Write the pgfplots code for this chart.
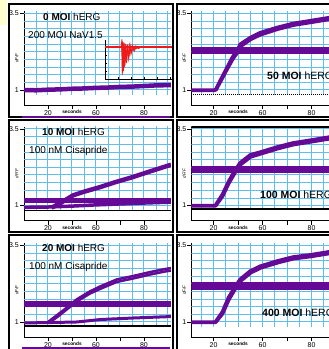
\documentclass[border=0pt]{standalone}
\usepackage{fontspec}
\setmainfont{Liberation Sans}
\usepackage{pgfplots}
\pgfplotsset{compat=1.18}
\definecolor{pur}{RGB}{100,10,150}
\definecolor{gridc}{RGB}{95,190,235}
\definecolor{redc}{RGB}{240,25,25}
\definecolor{paleyel}{RGB}{255,255,205}

\newcommand{\mkgrid}[2]{%
 \pgfplotsinvokeforeach{0.5,1.5,2.5,3.5,4.5,5.5}{\draw[gridc,line width=0.6pt] (axis cs:##1,0.85) -- (axis cs:##1,3.6);}
 \pgfplotsinvokeforeach{1,2,3,4,5,6}{\draw[gridc,line width=1pt] (axis cs:##1,0.85) -- (axis cs:##1,3.6);}
 \pgfplotsinvokeforeach{1.25,1.75,2.25,2.75,3.25}{\draw[gridc,line width=0.6pt] (axis cs:#1,##1) -- (axis cs:#2,##1);}
 \pgfplotsinvokeforeach{1,1.5,2,2.5,3,3.5}{\draw[gridc,line width=1pt] (axis cs:#1,##1) -- (axis cs:#2,##1);}
}

\pgfplotsset{
 panel/.style={
  scale only axis, height=94pt, ymin=0.5, ymax=3.57,
  axis x line*=bottom, axis y line*=left,
  axis line style={black,line width=0.8pt,-},
  xtick={1,2,3,4,5}, xticklabels={20,{\fontsize{4.8}{5}\selectfont\bfseries seconds},60,{},80},
  ytick={1,3.5}, yticklabels={1,3.5},
  tick align=outside, major tick length=4pt, tick style={black,line width=0.6pt},
  tick label style={font=\fontsize{7}{7}\selectfont, inner sep=1pt},
  ylabel={dF/F}, ylabel style={font=\fontsize{4.5}{4.5}\selectfont\itshape, at={(axis description cs:-0.05,0.5)}, anchor=center, rotate=0},
  every axis plot/.append style={pur, line width=3.5pt, line join=round, no marks},
 },
 leftp/.style={panel, xmin=0, xmax=6.125, width=147pt},
 rightp/.style={panel, xmin=0.1, xmax=6, width=144.55pt},
}

\begin{document}
\begin{tikzpicture}[x=1pt,y=1pt]
\useasboundingbox (0,0) rectangle (329,349);
\fill[white] (0,0) rectangle (329,349);
\fill[paleyel] (0,324) rectangle (7,349);

% ---------------- left column ----------------
\begin{scope}
\clip (0,0) rectangle (174,349);
% row 1
\begin{axis}[leftp, at={(24pt,243.7pt)}, anchor=south west]
\mkgrid{0}{6.125}
\addplot[line width=4.5pt] coordinates {(0,1.0) (0.5,0.99) (1,1.01) (1.5,1.02) (2,1.04) (2.5,1.05) (3,1.07) (3.5,1.08) (4,1.1) (4.5,1.11) (5,1.13) (5.5,1.15) (6.13,1.16)};
\end{axis}
\begin{axis}[at={(105pt,270pt)}, anchor=south west, scale only axis, width=67.6pt, height=39pt,
  xmin=0, xmax=5.2, ymin=0, ymax=39, axis x line*=bottom, axis y line*=left,
  axis line style={black,line width=0.8pt,-}, xtick={1,2,3,4,5}, ytick={8,16,24,32},
  xticklabels={}, yticklabels={}, tick align=inside, major tick length=2pt,
  tick style={black,line width=0.5pt}]
\addplot[redc, line width=2pt, no marks] coordinates {(0,32) (5.2,32)};
\addplot[redc, line width=0.8pt, no marks] coordinates {(0,32) (1.25,32) (1.3,39.5) (1.34,6) (1.38,37) (1.43,10) (1.48,36) (1.53,14) (1.6,35) (1.67,18) (1.75,34.5) (1.83,22) (1.92,34) (2.0,26) (2.1,33.5) (2.2,29) (2.35,33) (2.5,31) (2.7,32.5) (3,32) (5.2,32)};
\addplot[redc, line width=0.8pt, no marks] coordinates {(0,32.3) (1.27,32.3) (1.31,38) (1.36,9) (1.41,36) (1.47,12) (1.55,35) (1.62,16) (1.72,34) (1.8,21) (1.9,33.5) (2.0,25) (2.12,33) (2.25,28) (2.4,32.8) (2.6,30.5) (2.8,32.4) (3.2,32.2) (5.2,32.2)};
\addplot[redc, line width=0.8pt, no marks] coordinates {(1.26,32) (1.29,36) (1.33,4) (1.37,34) (1.42,8) (1.46,33) (1.51,12) (1.58,33) (1.65,16) (1.73,33) (1.82,20) (1.95,32.5) (2.05,27) (2.2,32) (2.35,30) (2.6,32)};
\end{axis}
% row 2
\begin{axis}[leftp, at={(24pt,128.2pt)}, anchor=south west]
\mkgrid{0}{6.125}
\addplot[black, line width=1.5pt] coordinates {(0,0.84) (6.13,0.84)};
\addplot[line width=4.5pt] coordinates {(0,1.17) (6.13,1.17)};
\addplot[line width=3.5pt] coordinates {(0,0.94) (1,0.95) (2,0.98) (3,1.02) (4,1.05) (5,1.08) (6.13,1.11)};
\addplot[line width=4.5pt] coordinates {(1.15,0.93) (1.5,1.07) (2.04,1.33) (2.5,1.45) (3.17,1.6) (3.8,1.76) (4.54,1.93) (5.2,2.1) (5.88,2.27) (6.13,2.33)};
\end{axis}
% row 3
\begin{axis}[leftp, at={(24pt,11.7pt)}, anchor=south west]
\mkgrid{0}{6.125}
\addplot[black, line width=1.5pt] coordinates {(0,0.87) (6.13,0.87)};
\addplot[line width=6.5pt] coordinates {(0,1.58) (6.13,1.58)};
\addplot[line width=3pt] coordinates {(0,0.97) (1,0.98) (2.2,1.0) (3.17,1.08) (4.54,1.13) (5.88,1.17) (6.13,1.18)};
\addplot[line width=2.5pt] coordinates {(1.0,1.0) (1.37,1.22) (1.8,1.48) (2.2,1.74) (2.75,2.0) (3.17,2.16) (3.87,2.39) (4.54,2.5) (5.25,2.63) (5.88,2.73) (6.13,2.76)};
\addplot[line width=2.5pt] coordinates {(1.05,0.98) (1.4,1.17) (1.8,1.42) (2.2,1.67) (2.75,1.93) (3.17,2.08) (3.87,2.31) (4.54,2.42) (5.25,2.55) (5.88,2.65) (6.13,2.68)};
\end{axis}
\node[anchor=west,inner sep=0,font=\fontsize{10}{10}\selectfont] at (43,332) {\textbf{0 MOI} hERG};
\node[anchor=west,inner sep=0,font=\fontsize{10}{10}\selectfont] at (28,314) {200 MOI NaV1.5};
\node[anchor=west,inner sep=0,font=\fontsize{10}{10}\selectfont] at (42,217) {\textbf{10 MOI} hERG};
\node[anchor=west,inner sep=0,font=\fontsize{10}{10}\selectfont] at (29,198) {100 nM Cisapride};
\node[anchor=west,inner sep=0,font=\fontsize{10}{10}\selectfont] at (42,101) {\textbf{20 MOI} hERG};
\node[anchor=west,inner sep=0,font=\fontsize{10}{10}\selectfont] at (29,82) {100 nM Cisapride};
\draw[black,line width=1.2pt] (9,232) rectangle (173,345);
\draw[black,line width=1.2pt] (9,117) rectangle (173,229);
\draw[black,line width=1.2pt] (9,-5) rectangle (173,114);
\draw[pur,line width=1.6pt] (22,232) -- (170,232);
\draw[pur,line width=1.6pt] (22,1) -- (170,1);
\end{scope}

% ---------------- right column ----------------
\begin{scope}
\clip (175,0) rectangle (329,349);
\begin{axis}[rightp, at={(191.5pt,243.7pt)}, anchor=south west]
\mkgrid{0.1}{6}
\addplot[black, line width=1pt, densely dotted] coordinates {(0.1,0.84) (6,0.84)};
\addplot[line width=7pt] coordinates {(0.1,2.3) (6,2.3)};
\addplot[line width=3pt] coordinates {(0.1,1.0) (1.0,1.0) (1.08,1.02) (1.27,1.32) (1.55,1.75) (1.76,2.07) (1.96,2.3) (2.08,2.5) (2.5,2.72) (2.9,2.88) (3.6,3.05) (4.24,3.18) (4.94,3.27) (5.71,3.37) (6,3.4)};
\addplot[line width=3pt] coordinates {(0.1,0.98) (1.03,0.98) (1.11,1.0) (1.3,1.28) (1.58,1.7) (1.79,2.0) (1.99,2.23) (2.11,2.42) (2.53,2.65) (2.93,2.8) (3.63,2.98) (4.27,3.11) (4.97,3.2) (5.74,3.3) (6,3.33)};
\end{axis}
\begin{axis}[rightp, at={(191.5pt,128.2pt)}, anchor=south west]
\mkgrid{0.1}{6}
\addplot[black, line width=2pt] coordinates {(0.1,0.87) (6,0.87)};
\addplot[black, line width=3pt] coordinates {(0.1,3.57) (6,3.57)};
\addplot[line width=7.5pt] coordinates {(0.1,2.17) (6,2.17)};
\addplot[line width=3pt] coordinates {(0.1,1.0) (1.06,1.0) (1.35,1.36) (1.6,1.78) (1.88,2.17) (2.08,2.4) (2.49,2.66) (2.9,2.75) (3.6,2.92) (4.24,3.05) (4.94,3.14) (5.71,3.24) (6,3.27)};
\addplot[line width=3pt] coordinates {(0.1,0.98) (1.09,0.98) (1.38,1.3) (1.63,1.72) (1.91,2.1) (2.11,2.33) (2.52,2.58) (2.93,2.68) (3.63,2.85) (4.27,2.98) (4.97,3.07) (5.74,3.17) (6,3.2)};
\end{axis}
\begin{axis}[rightp, at={(191.5pt,11.7pt)}, anchor=south west]
\mkgrid{0.1}{6}
\addplot[line width=8pt] coordinates {(0.1,2.17) (6,2.17)};
\addplot[line width=3pt] coordinates {(0.1,1.0) (1.06,1.0) (1.35,1.33) (1.6,1.8) (1.88,2.17) (2.08,2.4) (2.49,2.67) (2.9,2.83) (3.6,3.0) (4.24,3.13) (4.94,3.2) (5.71,3.3) (6,3.33)};
\addplot[line width=3pt] coordinates {(0.1,0.98) (1.09,0.98) (1.38,1.27) (1.63,1.72) (1.91,2.1) (2.11,2.33) (2.52,2.6) (2.93,2.76) (3.63,2.93) (4.27,3.06) (4.97,3.13) (5.74,3.23) (6,3.26)};
\end{axis}
\node[anchor=west,inner sep=0,font=\fontsize{10.5}{10.5}\selectfont] at (267,273) {\textbf{50 MOI} hERG};
\node[anchor=west,inner sep=0,font=\fontsize{10.5}{10.5}\selectfont] at (260,154) {\textbf{100 MOI} hERG};
\node[anchor=west,inner sep=0,font=\fontsize{10.5}{10.5}\selectfont] at (262,36) {\textbf{400 MOI} hERG};
\draw[black,line width=1.2pt] (177,232) rectangle (340,345);
\draw[black,line width=1.2pt] (177,117) rectangle (340,229);
\draw[black,line width=1.2pt] (177,-5) rectangle (340,114);
\end{scope}
\end{tikzpicture}
\end{document}
